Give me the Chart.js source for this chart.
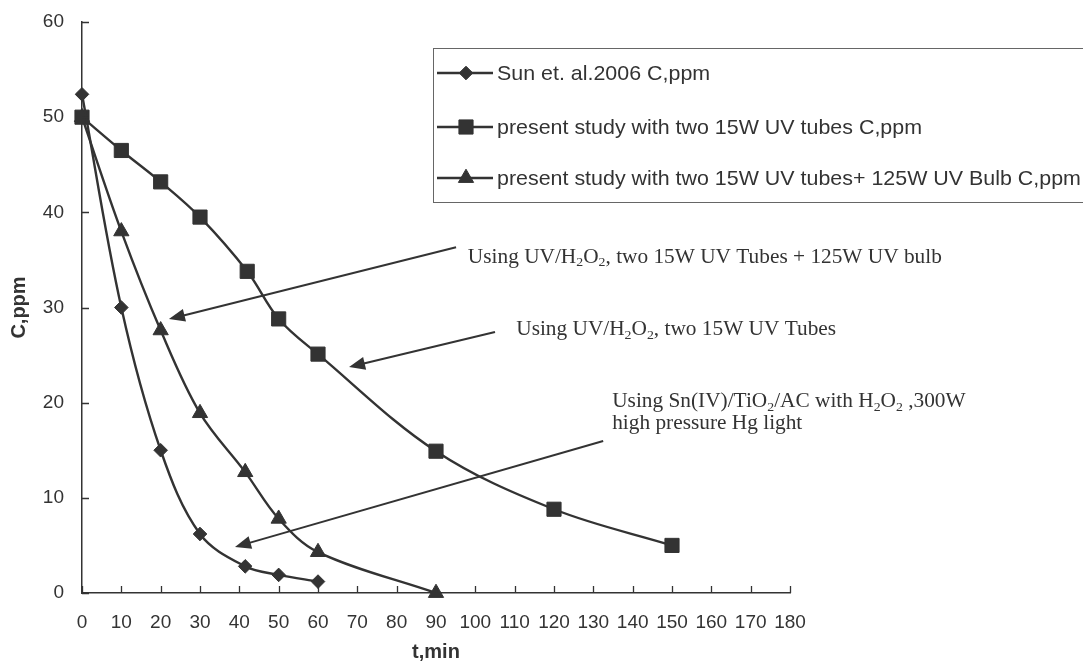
<!DOCTYPE html>
<html>
<head>
<meta charset="utf-8">
<script src="https://cdn.jsdelivr.net/npm/chart.js@4.4.1/dist/chart.umd.min.js"></script>
<style>
html,body{margin:0;padding:0;background:#fff;overflow:hidden}
canvas{display:block}
</style>
</head>
<body>
<canvas id="c" width="1083" height="663"></canvas>
<script>
// ---- data ----
const seriesNames = [
  'Sun et. al.2006 C,ppm',
  'present study with two 15W UV tubes C,ppm',
  'present study with two 15W UV tubes+ 125W UV Bulb C,ppm'
];
const timeSun = [0, 10, 20, 30, 41.5, 50, 60];
const concSun = [52.4, 30, 15, 6.2, 2.8, 1.9, 1.2];
const timeTubes = [0, 10, 20, 30, 42, 50, 60, 90, 120, 150];
const concTubes = [50, 46.5, 43.2, 39.5, 33.8, 28.8, 25.1, 14.9, 8.8, 5.0];
const timeBulb = [0, 10, 20, 30, 41.5, 50, 60, 90];
const concBulb = [50, 38, 27.6, 18.9, 12.7, 7.8, 4.3, 0];
const xTicks = [0, 10, 20, 30, 40, 50, 60, 70, 80, 90, 100, 110, 120, 130, 140, 150, 160, 170, 180];
const yTicks = [0, 10, 20, 30, 40, 50, 60];
const xTitle = 't,min';
const yTitle = 'C,ppm';

// annotation texts (segments: [text, isSubscript])
const noteBulb = [[['Using UV/H'], ['2', 1], ['O'], ['2', 1], [', two 15W UV Tubes + 125W UV bulb']]];
const noteTubes = [[['Using UV/H'], ['2', 1], ['O'], ['2', 1], [', two 15W UV Tubes']]];
const noteSun = [
  [['Using Sn(IV)/TiO'], ['2', 1], ['/AC with H'], ['2', 1], ['O'], ['2', 1], [' ,300W']],
  [['high pressure Hg light']]
];

// ---- styles ----
const INK = '#333';
const SANS = '"Liberation Sans", Arial, sans-serif';
const SERIF = '"Liberation Serif", "Times New Roman", serif';
const markers = [
  {style: 'rectRot', radius: 6.8},
  {style: 'rect', radius: 10},
  {style: 'triangle', radius: 8.8}
];

const toXY = (xs, ys) => xs.map((x, i) => ({x, y: ys[i]}));
const seriesData = [toXY(timeSun, concSun), toXY(timeTubes, concTubes), toXY(timeBulb, concBulb)];

const datasets = seriesData.map((d, i) => ({
  label: seriesNames[i],
  data: d,
  borderColor: INK,
  backgroundColor: INK,
  borderWidth: 2.4,
  tension: 0.35,
  pointStyle: markers[i].style,
  pointRadius: markers[i].radius,
  pointBackgroundColor: INK,
  pointBorderColor: INK,
  pointBorderWidth: 1,
  clip: false
}));

// annotation placement (data coordinates)
const notes = [
  {lines: noteBulb, x: 98.1, y: [34.7], tail: [95.1, 36.34], tip: [22.1, 28.78]},
  {lines: noteTubes, x: 110.4, y: [27.1], tail: [105.0, 27.42], tip: [67.9, 23.74]},
  {lines: noteSun, x: 134.8, y: [19.54, 17.25], tail: [132.5, 15.97], tip: [38.9, 4.83]}
];

function drawMarker(ctx, style, r, x, y) {
  ctx.beginPath();
  if (style === 'rectRot') {
    ctx.moveTo(x, y - r); ctx.lineTo(x + r, y); ctx.lineTo(x, y + r); ctx.lineTo(x - r, y);
  } else if (style === 'rect') {
    const s = Math.SQRT1_2 * r;
    ctx.rect(x - s, y - s, 2 * s, 2 * s);
  } else {
    ctx.moveTo(x, y - r);
    ctx.lineTo(x + r * Math.sin(2 * Math.PI / 3), y - r * Math.cos(2 * Math.PI / 3));
    ctx.lineTo(x + r * Math.sin(4 * Math.PI / 3), y - r * Math.cos(4 * Math.PI / 3));
  }
  ctx.closePath();
  ctx.fill();
  ctx.lineWidth = 1;
  ctx.stroke();
}

function drawRich(ctx, segs, x, y, size, sx) {
  ctx.save();
  ctx.translate(x, y);
  ctx.scale(sx, 1);
  let cx = 0;
  segs.forEach(([t, sub]) => {
    const fs = sub ? size * 0.65 : size;
    ctx.font = fs + 'px ' + SERIF;
    ctx.fillText(t, cx, sub ? size * 0.17 : 0);
    cx += ctx.measureText(t).width;
  });
  ctx.restore();
}

const decor = {
  id: 'decor',
  afterDatasetsDraw(chart) {
    const ctx = chart.ctx;
    const xs = chart.scales.x, ys = chart.scales.y;
    ctx.save();
    // inward tick marks
    ctx.strokeStyle = INK;
    ctx.lineWidth = 1.3;
    ctx.beginPath();
    xTicks.forEach(v => {
      const px = Math.round(xs.getPixelForValue(v)) + 0.5;
      ctx.moveTo(px, ys.bottom); ctx.lineTo(px, ys.bottom - 7);
    });
    yTicks.forEach(v => {
      const py = Math.round(ys.getPixelForValue(v)) + 0.5;
      ctx.moveTo(xs.left, py); ctx.lineTo(xs.left + 7, py);
    });
    ctx.stroke();

    // annotations with arrows
    ctx.fillStyle = INK;
    ctx.strokeStyle = INK;
    notes.forEach(n => {
      const tx = xs.getPixelForValue(n.tail[0]), ty = ys.getPixelForValue(n.tail[1]);
      const hx = xs.getPixelForValue(n.tip[0]), hy = ys.getPixelForValue(n.tip[1]);
      const ang = Math.atan2(hy - ty, hx - tx);
      const L = 16, W = 6.5;
      const bx = hx - L * Math.cos(ang), by = hy - L * Math.sin(ang);
      ctx.lineWidth = 2;
      ctx.beginPath();
      ctx.moveTo(tx, ty); ctx.lineTo(bx + 2 * Math.cos(ang), by + 2 * Math.sin(ang));
      ctx.stroke();
      ctx.beginPath();
      ctx.moveTo(hx, hy);
      ctx.lineTo(bx - W * Math.sin(ang), by + W * Math.cos(ang));
      ctx.lineTo(bx + W * Math.sin(ang), by - W * Math.cos(ang));
      ctx.closePath();
      ctx.fill();
      ctx.textBaseline = 'alphabetic';
      ctx.textAlign = 'left';
      n.lines.forEach((segs, i) => {
        drawRich(ctx, segs, xs.getPixelForValue(n.x), ys.getPixelForValue(n.y[i]), 20.5, 1.04);
      });
    });

    // legend
    ctx.lineWidth = 1;
    ctx.strokeStyle = '#666';
    ctx.strokeRect(433.5, 48.5, 700, 154);
    const rowsY = [73, 127, 178];
    seriesNames.forEach((name, i) => {
      const y = rowsY[i];
      ctx.strokeStyle = INK;
      ctx.lineWidth = 2.4;
      ctx.beginPath(); ctx.moveTo(437, y); ctx.lineTo(493, y); ctx.stroke();
      ctx.fillStyle = INK;
      drawMarker(ctx, markers[i].style, markers[i].radius, 466, y);
      ctx.save();
      ctx.translate(497, y + 1);
      ctx.scale(1.02, 1);
      ctx.font = '21px ' + SANS;
      ctx.textBaseline = 'middle';
      ctx.fillText(name, 0, 0);
      ctx.restore();
    });
    ctx.restore();
  }
};

new Chart(document.getElementById('c'), {
  type: 'line',
  data: {datasets},
  options: {
    responsive: false,
    devicePixelRatio: 1,
    animation: false,
    layout: {padding: {top: 22, right: 293, left: 0, bottom: 0}},
    plugins: {legend: {display: false}, tooltip: {enabled: false}},
    scales: {
      x: {
        type: 'linear', min: 0, max: 180,
        afterFit: s => { s.height = 70; },
        afterBuildTicks: s => { s.ticks = xTicks.map(v => ({value: v})); },
        ticks: {color: INK, font: {family: SANS, size: 19}, padding: 10, maxRotation: 0, autoSkip: false},
        grid: {display: false},
        border: {display: true, color: INK, width: 1.5},
        title: {display: true, text: xTitle, color: INK, font: {family: SANS, size: 20, weight: 'bold', lineHeight: 1}, padding: {top: 0, bottom: 1}}
      },
      y: {
        type: 'linear', min: 0, max: 60,
        afterFit: s => { s.width = 82; },
        afterBuildTicks: s => { s.ticks = yTicks.map(v => ({value: v})); },
        ticks: {color: INK, font: {family: SANS, size: 19}, padding: 10},
        grid: {display: false},
        border: {display: true, color: INK, width: 1.5},
        title: {display: true, text: yTitle, color: INK, font: {family: SANS, size: 20, weight: 'bold', lineHeight: 1}, padding: {top: 9, bottom: 0}}
      }
    }
  },
  plugins: [decor]
});
</script>
</body>
</html>
